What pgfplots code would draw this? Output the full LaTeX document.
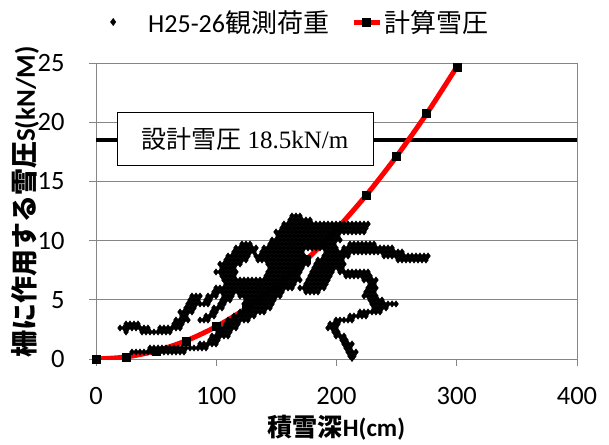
\documentclass[border=0pt]{standalone}
\usepackage{fontspec}
\setmainfont{Carlito}
\newfontfamily\jp{Noto Sans CJK JP}
\newfontfamily\tnr{Liberation Serif}
\usepackage{pgfplots}
\pgfplotsset{compat=1.18}
\definecolor{axgray}{RGB}{134,134,134}
\pgfplotsset{
  obs legend/.style={legend image code/.code={\path[draw=none,fill=none] (0pt,0pt) (46pt,0pt); \draw[##1,mark size=3.6pt] plot coordinates {(13pt,0pt)};}},
  calc legend/.style={legend image code/.code={\draw[mark repeat=2,mark phase=2,##1] plot coordinates {(0pt,0pt) (13pt,0pt) (26pt,0pt)};}},
}
\begin{document}
\begin{tikzpicture}
\path[use as bounding box] (-96pt,-85pt) rectangle (513pt,359pt);
\begin{axis}[
  at={(0pt,0pt)}, anchor=south west,
  scale only axis, width=481pt, height=296pt,
  xmin=0, xmax=400, ymin=0, ymax=25,
  xtick={0,100,200,300,400}, ytick={0,5,10,15,20,25},
  ymajorgrids, grid style={draw=axgray, line width=0.9pt},
  axis line style={draw=axgray, line width=0.9pt},
  tick style={draw=axgray, line width=0.9pt},
  tick align=outside, major tick length=7pt,
  xtick pos=bottom, ytick pos=left,
  /pgf/number format/assume math mode=true,
  ticklabel style={font=\fontsize{26.5}{30}\selectfont},
  xticklabel style={yshift=-18pt},
  yticklabel style={xshift=-21pt},
  xlabel={\bfseries{\jp 積雪深}H(cm)},
  ylabel={\bfseries{\jp 柵に作用する雪圧}S(kN/M)},
  xlabel style={font=\fontsize{25}{30}\selectfont, at={(axis description cs:0.5,-0.2331)}, anchor=center},
  ylabel style={font=\fontsize{27}{31}\selectfont, at={(axis description cs:-0.147,0.53)}, anchor=center},
  legend columns=2,
  legend style={at={(axis description cs:0.0083,1.1385)}, anchor=west, draw=none, fill=none, inner sep=0pt,
    font=\fontsize{26}{30}\selectfont, nodes={inner xsep=2pt, inner ysep=1pt},
    /tikz/every even column/.append style={column sep=20pt}},
]
% observed data (dense cloud)
\addplot[only marks, mark=diamond*, mark size=3.2pt, mark options={fill=black, draw=black, line width=0.4pt}, obs legend]
coordinates {
(163.0,12.08) (166.3,12.08) (169.6,12.08)
(161.3,11.74) (164.7,11.74) (168.0,11.74) (171.3,11.74) (174.6,11.74) (178.0,11.74)
(156.3,11.40) (159.7,11.40) (163.0,11.40) (166.3,11.40) (169.6,11.40) (173.0,11.40) (176.3,11.40) (179.6,11.40) (182.9,11.40) (186.3,11.40) (189.6,11.40) (192.9,11.40) (196.3,11.40) (199.6,11.40) (202.9,11.40) (206.2,11.40) (209.6,11.40) (212.9,11.40) (216.2,11.40) (219.5,11.40) (222.9,11.40) (226.2,11.40)
(154.7,11.06) (158.0,11.06) (161.3,11.06) (164.7,11.06) (168.0,11.06) (171.3,11.06) (174.6,11.06) (178.0,11.06) (181.3,11.06) (184.6,11.06) (187.9,11.06) (191.3,11.06) (194.6,11.06) (197.9,11.06) (201.2,11.06) (204.6,11.06) (207.9,11.06) (211.2,11.06) (214.5,11.06) (217.9,11.06) (221.2,11.06) (224.5,11.06)
(149.7,10.73) (153.0,10.73) (156.3,10.73) (159.7,10.73) (163.0,10.73) (166.3,10.73) (169.6,10.73) (173.0,10.73) (176.3,10.73) (179.6,10.73) (182.9,10.73) (186.3,10.73) (189.6,10.73) (192.9,10.73) (196.3,10.73) (199.6,10.73) (202.9,10.73) (206.2,10.73) (209.6,10.73) (212.9,10.73) (216.2,10.73) (219.5,10.73) (222.9,10.73)
(151.4,10.39) (154.7,10.39) (158.0,10.39) (161.3,10.39) (164.7,10.39) (168.0,10.39) (171.3,10.39) (174.6,10.39) (178.0,10.39) (181.3,10.39) (184.6,10.39) (187.9,10.39) (191.3,10.39) (194.6,10.39) (197.9,10.39) (201.2,10.39)
(146.4,10.05) (149.7,10.05) (153.0,10.05) (156.3,10.05) (159.7,10.05) (163.0,10.05) (166.3,10.05) (169.6,10.05) (173.0,10.05) (176.3,10.05) (179.6,10.05) (182.9,10.05) (186.3,10.05) (189.6,10.05) (192.9,10.05) (196.3,10.05) (199.6,10.05) (202.9,10.05)
(121.4,9.71) (124.7,9.71) (128.1,9.71) (144.7,9.71) (148.0,9.71) (151.4,9.71) (154.7,9.71) (158.0,9.71) (161.3,9.71) (164.7,9.71) (168.0,9.71) (171.3,9.71) (174.6,9.71) (178.0,9.71) (181.3,9.71) (184.6,9.71) (187.9,9.71) (191.3,9.71) (194.6,9.71) (197.9,9.71) (211.2,9.71) (214.5,9.71) (217.9,9.71) (221.2,9.71) (224.5,9.71) (227.9,9.71) (231.2,9.71)
(116.4,9.38) (119.8,9.38) (123.1,9.38) (126.4,9.38) (129.7,9.38) (133.1,9.38) (139.7,9.38) (143.0,9.38) (146.4,9.38) (149.7,9.38) (153.0,9.38) (156.3,9.38) (159.7,9.38) (163.0,9.38) (166.3,9.38) (169.6,9.38) (173.0,9.38) (176.3,9.38) (179.6,9.38) (182.9,9.38) (186.3,9.38) (189.6,9.38) (192.9,9.38) (196.3,9.38) (199.6,9.38) (206.2,9.38) (209.6,9.38) (212.9,9.38) (216.2,9.38) (219.5,9.38) (222.9,9.38) (226.2,9.38) (229.5,9.38) (232.8,9.38) (236.2,9.38) (239.5,9.38) (242.8,9.38) (246.2,9.38)
(114.7,9.04) (118.1,9.04) (121.4,9.04) (124.7,9.04) (128.1,9.04) (131.4,9.04) (138.0,9.04) (141.4,9.04) (144.7,9.04) (148.0,9.04) (151.4,9.04) (154.7,9.04) (158.0,9.04) (161.3,9.04) (164.7,9.04) (168.0,9.04) (171.3,9.04) (191.3,9.04) (194.6,9.04) (197.9,9.04) (201.2,9.04) (204.6,9.04) (207.9,9.04) (211.2,9.04) (214.5,9.04) (217.9,9.04) (221.2,9.04) (224.5,9.04) (227.9,9.04) (231.2,9.04) (234.5,9.04) (237.8,9.04) (241.2,9.04) (244.5,9.04) (247.8,9.04) (251.2,9.04) (254.5,9.04)
(109.8,8.70) (113.1,8.70) (116.4,8.70) (119.8,8.70) (123.1,8.70) (126.4,8.70) (133.1,8.70) (136.4,8.70) (139.7,8.70) (143.0,8.70) (146.4,8.70) (149.7,8.70) (153.0,8.70) (156.3,8.70) (159.7,8.70) (163.0,8.70) (166.3,8.70) (169.6,8.70) (173.0,8.70) (189.6,8.70) (192.9,8.70) (196.3,8.70) (199.6,8.70) (202.9,8.70) (206.2,8.70) (209.6,8.70) (239.5,8.70) (242.8,8.70) (246.2,8.70) (249.5,8.70) (252.8,8.70) (256.1,8.70) (259.5,8.70) (262.8,8.70) (266.1,8.70) (269.4,8.70) (272.8,8.70) (276.1,8.70)
(108.1,8.36) (111.4,8.36) (114.7,8.36) (118.1,8.36) (121.4,8.36) (124.7,8.36) (134.7,8.36) (138.0,8.36) (141.4,8.36) (144.7,8.36) (148.0,8.36) (151.4,8.36) (154.7,8.36) (158.0,8.36) (161.3,8.36) (164.7,8.36) (168.0,8.36) (171.3,8.36) (184.6,8.36) (187.9,8.36) (191.3,8.36) (194.6,8.36) (197.9,8.36) (201.2,8.36) (204.6,8.36) (251.2,8.36) (254.5,8.36) (257.8,8.36) (261.1,8.36) (264.5,8.36) (267.8,8.36) (271.1,8.36) (274.4,8.36)
(103.1,8.02) (106.4,8.02) (109.8,8.02) (113.1,8.02) (116.4,8.02) (119.8,8.02) (143.0,8.02) (146.4,8.02) (149.7,8.02) (153.0,8.02) (156.3,8.02) (159.7,8.02) (163.0,8.02) (166.3,8.02) (169.6,8.02) (173.0,8.02) (176.3,8.02) (182.9,8.02) (186.3,8.02) (189.6,8.02) (192.9,8.02) (196.3,8.02) (199.6,8.02) (202.9,8.02) (206.2,8.02)
(104.8,7.69) (108.1,7.69) (111.4,7.69) (114.7,7.69) (144.7,7.69) (148.0,7.69) (151.4,7.69) (154.7,7.69) (158.0,7.69) (161.3,7.69) (164.7,7.69) (168.0,7.69) (171.3,7.69) (181.3,7.69) (184.6,7.69) (187.9,7.69) (191.3,7.69) (194.6,7.69) (197.9,7.69) (201.2,7.69) (204.6,7.69)
(99.8,7.35) (103.1,7.35) (106.4,7.35) (109.8,7.35) (113.1,7.35) (116.4,7.35) (143.0,7.35) (146.4,7.35) (149.7,7.35) (153.0,7.35) (156.3,7.35) (159.7,7.35) (163.0,7.35) (166.3,7.35) (169.6,7.35) (179.6,7.35) (182.9,7.35) (186.3,7.35) (189.6,7.35) (192.9,7.35) (196.3,7.35) (202.9,7.35) (206.2,7.35) (209.6,7.35) (212.9,7.35) (216.2,7.35) (219.5,7.35) (222.9,7.35) (226.2,7.35)
(104.8,7.01) (108.1,7.01) (111.4,7.01) (114.7,7.01) (141.4,7.01) (144.7,7.01) (148.0,7.01) (151.4,7.01) (154.7,7.01) (158.0,7.01) (161.3,7.01) (164.7,7.01) (168.0,7.01) (178.0,7.01) (181.3,7.01) (184.6,7.01) (187.9,7.01) (191.3,7.01) (194.6,7.01) (207.9,7.01) (211.2,7.01) (214.5,7.01) (217.9,7.01) (221.2,7.01) (224.5,7.01) (227.9,7.01)
(106.4,6.67) (109.8,6.67) (113.1,6.67) (116.4,6.67) (119.8,6.67) (123.1,6.67) (126.4,6.67) (129.7,6.67) (133.1,6.67) (136.4,6.67) (139.7,6.67) (143.0,6.67) (146.4,6.67) (149.7,6.67) (153.0,6.67) (156.3,6.67) (159.7,6.67) (163.0,6.67) (166.3,6.67) (169.6,6.67) (176.3,6.67) (179.6,6.67) (182.9,6.67) (186.3,6.67) (189.6,6.67) (192.9,6.67) (222.9,6.67) (226.2,6.67) (229.5,6.67) (232.8,6.67)
(108.1,6.33) (111.4,6.33) (114.7,6.33) (118.1,6.33) (121.4,6.33) (124.7,6.33) (128.1,6.33) (131.4,6.33) (134.7,6.33) (138.0,6.33) (141.4,6.33) (144.7,6.33) (148.0,6.33) (151.4,6.33) (154.7,6.33) (158.0,6.33) (161.3,6.33) (164.7,6.33) (174.6,6.33) (178.0,6.33) (181.3,6.33) (184.6,6.33) (187.9,6.33) (191.3,6.33) (227.9,6.33) (231.2,6.33)
(99.8,6.00) (103.1,6.00) (106.4,6.00) (109.8,6.00) (113.1,6.00) (116.4,6.00) (119.8,6.00) (123.1,6.00) (126.4,6.00) (129.7,6.00) (133.1,6.00) (136.4,6.00) (139.7,6.00) (143.0,6.00) (146.4,6.00) (149.7,6.00) (153.0,6.00) (156.3,6.00) (159.7,6.00) (163.0,6.00) (169.6,6.00) (173.0,6.00) (176.3,6.00) (179.6,6.00) (182.9,6.00) (186.3,6.00) (189.6,6.00) (226.2,6.00) (229.5,6.00) (232.8,6.00)
(98.1,5.66) (101.4,5.66) (104.8,5.66) (108.1,5.66) (111.4,5.66) (114.7,5.66) (118.1,5.66) (121.4,5.66) (124.7,5.66) (128.1,5.66) (131.4,5.66) (134.7,5.66) (138.0,5.66) (141.4,5.66) (144.7,5.66) (148.0,5.66) (151.4,5.66) (154.7,5.66) (174.6,5.66) (178.0,5.66) (181.3,5.66) (184.6,5.66) (224.5,5.66) (227.9,5.66) (231.2,5.66)
(79.8,5.32) (83.2,5.32) (86.5,5.32) (93.1,5.32) (96.5,5.32) (99.8,5.32) (106.4,5.32) (109.8,5.32) (113.1,5.32) (119.8,5.32) (123.1,5.32) (126.4,5.32) (129.7,5.32) (133.1,5.32) (136.4,5.32) (139.7,5.32) (143.0,5.32) (146.4,5.32) (149.7,5.32) (153.0,5.32) (222.9,5.32) (226.2,5.32) (229.5,5.32) (232.8,5.32)
(78.2,4.98) (81.5,4.98) (84.8,4.98) (91.5,4.98) (94.8,4.98) (104.8,4.98) (108.1,4.98) (111.4,4.98) (124.7,4.98) (128.1,4.98) (131.4,4.98) (134.7,4.98) (138.0,4.98) (141.4,4.98) (144.7,4.98) (148.0,4.98) (227.9,4.98) (231.2,4.98) (234.5,4.98) (237.8,4.98)
(76.5,4.65) (79.8,4.65) (83.2,4.65) (86.5,4.65) (89.8,4.65) (93.1,4.65) (103.1,4.65) (106.4,4.65) (123.1,4.65) (126.4,4.65) (129.7,4.65) (133.1,4.65) (136.4,4.65) (139.7,4.65) (143.0,4.65) (146.4,4.65) (229.5,4.65) (232.8,4.65) (236.2,4.65) (239.5,4.65) (242.8,4.65) (246.2,4.65) (249.5,4.65)
(74.8,4.31) (78.2,4.31) (81.5,4.31) (98.1,4.31) (101.4,4.31) (104.8,4.31) (124.7,4.31) (128.1,4.31) (131.4,4.31) (134.7,4.31) (138.0,4.31) (141.4,4.31) (144.7,4.31) (231.2,4.31) (234.5,4.31) (237.8,4.31) (241.2,4.31)
(69.9,3.97) (73.2,3.97) (76.5,3.97) (79.8,3.97) (96.5,3.97) (99.8,3.97) (119.8,3.97) (123.1,3.97) (126.4,3.97) (129.7,3.97) (133.1,3.97) (136.4,3.97) (139.7,3.97) (219.5,3.97) (222.9,3.97) (226.2,3.97) (229.5,3.97) (232.8,3.97) (236.2,3.97)
(71.5,3.63) (74.8,3.63) (91.5,3.63) (94.8,3.63) (98.1,3.63) (114.7,3.63) (118.1,3.63) (121.4,3.63) (124.7,3.63) (128.1,3.63) (131.4,3.63) (211.2,3.63) (214.5,3.63) (217.9,3.63) (221.2,3.63) (224.5,3.63)
(66.5,3.29) (69.9,3.29) (73.2,3.29) (76.5,3.29) (86.5,3.29) (89.8,3.29) (93.1,3.29) (109.8,3.29) (113.1,3.29) (116.4,3.29) (119.8,3.29) (123.1,3.29) (126.4,3.29) (199.6,3.29) (202.9,3.29) (206.2,3.29) (209.6,3.29) (212.9,3.29)
(25.0,2.96) (28.3,2.96) (31.6,2.96) (34.9,2.96) (64.9,2.96) (68.2,2.96) (71.5,2.96) (108.1,2.96) (111.4,2.96) (114.7,2.96) (118.1,2.96) (194.6,2.96) (197.9,2.96) (201.2,2.96)
(20.0,2.62) (23.3,2.62) (26.6,2.62) (29.9,2.62) (33.3,2.62) (36.6,2.62) (39.9,2.62) (43.2,2.62) (53.2,2.62) (56.5,2.62) (59.9,2.62) (63.2,2.62) (66.5,2.62) (69.9,2.62) (103.1,2.62) (106.4,2.62) (109.8,2.62) (113.1,2.62) (116.4,2.62) (192.9,2.62) (196.3,2.62) (199.6,2.62)
(25.0,2.28) (38.3,2.28) (41.6,2.28) (44.9,2.28) (48.2,2.28) (51.6,2.28) (54.9,2.28) (58.2,2.28) (61.5,2.28) (101.4,2.28) (104.8,2.28) (108.1,2.28) (111.4,2.28) (197.9,2.28) (201.2,2.28)
(96.5,1.94) (99.8,1.94) (103.1,1.94) (106.4,1.94) (109.8,1.94) (199.6,1.94) (202.9,1.94) (206.2,1.94)
(94.8,1.60) (98.1,1.60) (101.4,1.60) (204.6,1.60) (207.9,1.60)
(86.5,1.27) (89.8,1.27) (93.1,1.27) (96.5,1.27) (99.8,1.27) (206.2,1.27) (209.6,1.27) (212.9,1.27)
(44.9,0.93) (48.2,0.93) (51.6,0.93) (54.9,0.93) (58.2,0.93) (61.5,0.93) (64.9,0.93) (68.2,0.93) (71.5,0.93) (74.8,0.93) (78.2,0.93) (81.5,0.93) (84.8,0.93) (88.1,0.93) (91.5,0.93) (207.9,0.93) (211.2,0.93)
(29.9,0.59) (33.3,0.59) (36.6,0.59) (39.9,0.59) (43.2,0.59) (46.6,0.59) (49.9,0.59) (53.2,0.59) (56.5,0.59) (59.9,0.59) (63.2,0.59) (66.5,0.59) (69.9,0.59) (73.2,0.59) (209.6,0.59) (212.9,0.59) (216.2,0.59)
(211.2,0.25) (214.5,0.25)
(212.9,0.05)
};
\addlegendentry{H25-26{\jp 観測荷重}}
% design snow pressure line
\addplot[black, line width=3.8pt, forget plot] coordinates {(0,18.5) (400,18.5)};
\node[draw=black, line width=1.2pt, fill=white, minimum width=256pt, minimum height=53pt, inner sep=0pt,
  font=\fontsize{25}{30}\selectfont] at (axis cs:124,18.6) {{\jp 設計雪圧} {\tnr 18.5kN/m}};
% calculated snow pressure
\addplot[red, line width=5pt, smooth, mark=square*, mark size=4pt,
  mark options={solid, fill=black, draw=black, line width=0.4pt}, calc legend]
coordinates {(0,0) (25,0.17) (50,0.69) (75,1.54) (100,2.74) (125,4.28) (150,6.17) (175,8.39) (200,10.96) (225,13.87) (250,17.13) (275,20.72) (300,24.66)};
\addlegendentry{{\jp 計算雪圧}}
\end{axis}
\end{tikzpicture}
\end{document}
